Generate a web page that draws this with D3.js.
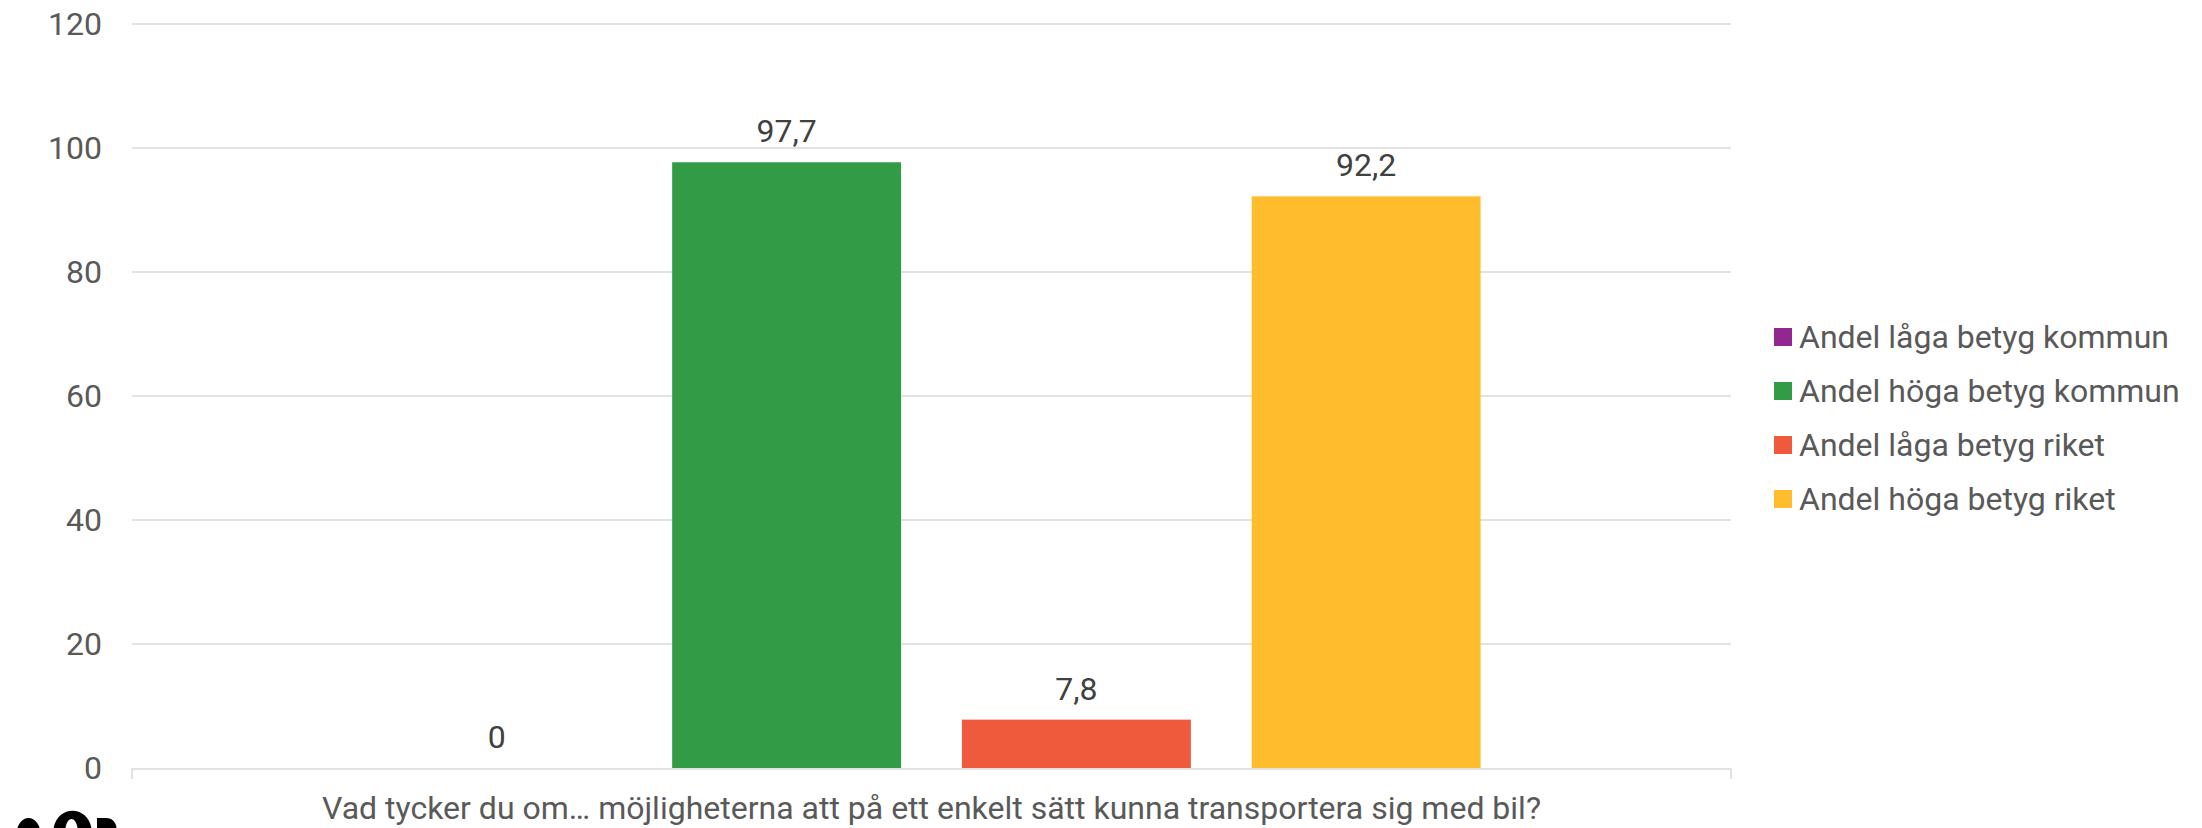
<!DOCTYPE html>
<html>
  <head>
    <meta charset="utf-8">
    <title>Bil</title>
    <script src="https://d3js.org/d3.v7.min.js"></script>
    <style>
      body { margin: 0; background: #fff; }
      text { font-family: Roboto, "Noto Sans", sans-serif; }
    </style>
  </head>
  <body>
    <div id="chart"></div>
    <script>
      const categories = ["Vad tycker du om\u2026 möjligheterna att på ett enkelt sätt kunna transportera sig med bil?"];
      const seriesNames = ["Andel låga betyg kommun", "Andel höga betyg kommun", "Andel låga betyg riket", "Andel höga betyg riket"];
      const seriesValues = [0, 97.7, 7.8, 92.2];
      const seriesColors = ["#92278f", "#329b46", "#ef5a3c", "#ffbd2e"];
      const yTicks = [0, 20, 40, 60, 80, 100, 120];

      const width = 2202, height = 828;
      const plotLeft = 132, plotRight = 1731, plotTop = 24, plotBottom = 768;
      const fontSize = 32;

      const svg = d3.select("#chart")
        .append("svg")
        .attr("width", width)
        .attr("height", height);

      const y = d3.scaleLinear().domain([0, 120]).range([plotBottom, plotTop]);
      const x0 = d3.scaleBand().domain(categories).range([plotLeft, plotRight])
        .paddingInner(0).paddingOuter(0.228);
      const x1 = d3.scaleBand().domain(seriesNames).range([0, x0.bandwidth()])
        .paddingInner(0.21).paddingOuter(0);

      // gridlines
      svg.append("g")
        .selectAll("line")
        .data(yTicks.filter(d => d > 0))
        .join("line")
        .attr("x1", plotLeft).attr("x2", plotRight)
        .attr("y1", d => y(d)).attr("y2", d => y(d))
        .attr("stroke", "#d9d9d9")
        .attr("stroke-width", 1.5);

      // y axis labels
      const yAxis = svg.append("g")
        .attr("transform", `translate(${plotLeft},0)`)
        .call(d3.axisLeft(y).tickValues(yTicks).tickSize(0).tickPadding(30));
      yAxis.select(".domain").remove();
      yAxis.selectAll("text")
        .attr("font-size", fontSize)
        .attr("font-family", "Roboto, sans-serif")
        .attr("fill", "#595959");

      // x axis
      const xAxis = svg.append("g")
        .attr("transform", `translate(0,${plotBottom + 1})`)
        .call(d3.axisBottom(x0).tickSize(0).tickPadding(27));
      xAxis.select(".domain").attr("stroke", "#d9d9d9").attr("stroke-width", 1.5)
        .attr("d", `M${plotLeft},10V0H${plotRight}V10`);
      xAxis.selectAll("text")
        .attr("font-size", fontSize)
        .attr("font-family", "Roboto, sans-serif")
        .attr("fill", "#595959");

      // bars
      const g = svg.append("g")
        .attr("transform", `translate(${x0(categories[0])},0)`);
      g.selectAll("rect")
        .data(seriesValues)
        .join("rect")
        .attr("x", (_, i) => x1(seriesNames[i]))
        .attr("y", d => y(d))
        .attr("width", x1.bandwidth())
        .attr("height", d => y(0) - y(d))
        .attr("fill", (_, i) => seriesColors[i]);

      g.selectAll("text")
        .data(seriesValues)
        .join("text")
        .text(d => String(d).replace(".", ","))
        .attr("x", (_, i) => x1(seriesNames[i]) + x1.bandwidth() / 2)
        .attr("y", d => y(d) - 20)
        .attr("text-anchor", "middle")
        .attr("font-size", fontSize)
        .attr("fill", "#404040");

      // legend
      const legend = svg.append("g")
        .attr("transform", "translate(1774,328)");
      const item = legend.selectAll("g")
        .data(seriesNames)
        .join("g")
        .attr("transform", (_, i) => `translate(0,${i * 54})`);
      item.append("rect")
        .attr("width", 18).attr("height", 18)
        .attr("fill", (_, i) => seriesColors[i]);
      item.append("text")
        .text(d => d)
        .attr("x", 25).attr("y", 9)
        .attr("dy", "0.35em")
        .attr("font-size", fontSize)
        .attr("fill", "#595959");

      // logo (cut off at the bottom edge)
      const logo = svg.append("g").attr("fill", "#000");
      logo.append("ellipse").attr("cx", 28.5).attr("cy", 834).attr("rx", 12).attr("ry", 16);
      logo.append("path").attr("d", "M53,834 C53,803 92,803 92,834 Z");
      logo.append("path").attr("d", "M65,834 C65,814 78,814 78,834 Z").attr("fill", "#fff");
      logo.append("path").attr("d", "M97,818 H106 C120,818 120,840 106,840 H97 Z");
    </script>
  </body>
</html>
